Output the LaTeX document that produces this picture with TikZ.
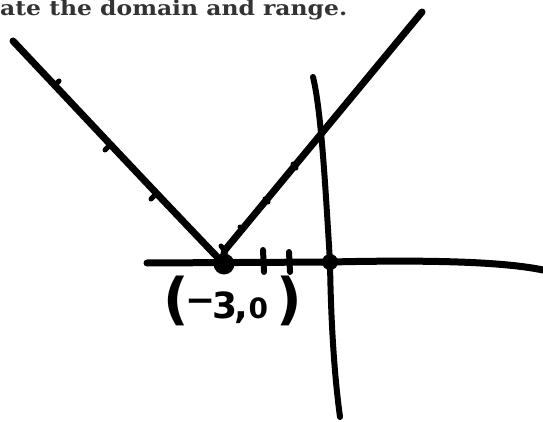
\documentclass[tikz,border=0pt]{standalone}
\usepackage{fontspec}
\newfontfamily\headfont{DejaVu Serif}
\newfontfamily\handfont{DejaVu Sans}
\begin{document}
\begin{tikzpicture}[x=1pt,y=-1pt,
  pen/.style={line width=7pt,line cap=round,line join=round,black},
  thinpen/.style={line width=6pt,line cap=round,black},
  nub/.style={line width=5pt,line cap=round,black},
  dot/.style={circle,fill=black,inner sep=0pt}]
\useasboundingbox (0,0) rectangle (543,422);
% heading
\node[anchor=base west,inner sep=0pt,text=black!80] (head) at (0,15.5)
  {\resizebox{347pt}{\height}{\headfont\bfseries\fontsize{20.5}{22}\selectfont ate the domain and range.}};
% coordinates
\coordinate (L) at (13,41);
\coordinate (V) at (222,262);
\coordinate (R) at (422,12);
\coordinate (O) at (330,262);
\coordinate (xl) at (147,263);
\coordinate (xr) at (543,270);
\coordinate (yt) at (313,77);
\coordinate (yb) at (340,417);
% axes
\draw[pen] (xl) -- (O) .. controls (420,260) and (500,261) .. (xr);
\draw[thinpen] (yt) .. controls (321,110) and (325,180) .. (O) .. controls (331,330) and (335,380) .. (yb);
% V graph
\draw[pen] (L) .. controls (80,112) and (150,187) .. (V);
\draw[pen] (V) -- (225,250) -- (R);
% nubs on left branch
\draw[nub] (55,85) -- (59,81);
\draw[nub] (105,150) -- (109,146);
\draw[nub] (151,199) -- (154,196);
% nubs on right branch
\draw[nub] (296,168) -- (293,164);
\draw[nub] (268,202) -- (265,199);
\draw[nub] (243,230) -- (240,227);
\draw[nub] (224,250) -- (221,246);
% x-axis ticks
\draw[thinpen] (263,250) -- (264,272);
\draw[thinpen] (289,252) -- (290,272);
% dots
\node[dot,minimum size=21pt] (vd) at (224,264) {};
\node[dot,minimum size=16pt] (od) at (O) {};
% label
\node[anchor=base west,inner sep=0pt] (lab) at (163,318)
  {\handfont\bfseries\fontsize{36}{40}\selectfont{\fontsize{56}{56}\selectfont(}\kern-3pt\raisebox{6pt}{−}\kern-3pt 3\kern-4pt,\kern1pt{\fontsize{28}{28}\selectfont 0}\kern8pt{\fontsize{56}{56}\selectfont)}};
\end{tikzpicture}
\end{document}
